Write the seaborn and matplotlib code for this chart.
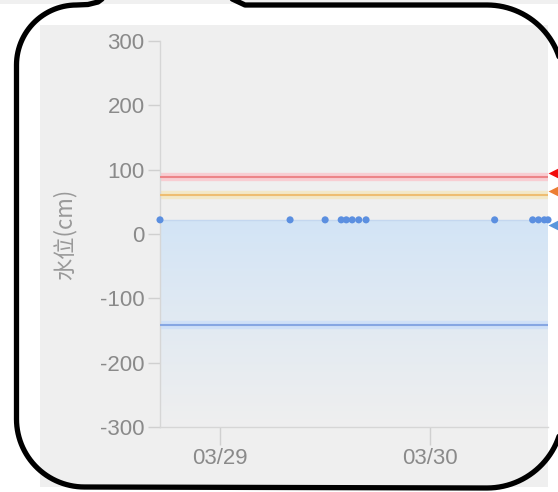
import numpy as np
import pandas as pd
import seaborn as sns
import matplotlib
matplotlib.use("Agg")
import matplotlib.pyplot as plt
import matplotlib.dates as mdates
import matplotlib.transforms as mtransforms
from matplotlib.path import Path
from matplotlib.patches import PathPatch, Rectangle

# water level readings (cm)
times = ["2024-03-28 17:10", "2024-03-29 08:00", "2024-03-29 12:00",
         "2024-03-29 13:50", "2024-03-29 14:25", "2024-03-29 15:05",
         "2024-03-29 15:50", "2024-03-29 16:40", "2024-03-30 07:20",
         "2024-03-30 11:40", "2024-03-30 12:20", "2024-03-30 13:00",
         "2024-03-30 13:25"]
levels = [22, 22, 22, 22, 22, 22, 22, 22, 22, 22, 22, 22, 22]

# alert lines
warn_levels = [89, 60, -142]
warn_cores = ["#ec8488", "#eebd72", "#86a6e2"]
warn_halos = ["#f8cdd2", "#f3e8c8", "#cfe0f7"]
arrow_colors = ["#f20c0c", "#ec7d33", "#5a96dc"]

y_ticks = [-300, -200, -100, 0, 100, 200, 300]
x_ticks = ["2024-03-29", "2024-03-30"]
y_label = "水位(cm)"

df = pd.DataFrame({"time": pd.to_datetime(times), "level": levels})

sns.set_theme(style="white")
plt.rcParams["font.family"] = ["Liberation Sans", "DejaVu Sans"]
plt.rcParams["axes.unicode_minus"] = False

W, H = 558, 492
fig = plt.figure(figsize=(W / 100, H / 100), dpi=100)
fig.patch.set_facecolor("white")

# screenshot background panel
bg = fig.add_axes([0, 0, 1, 1], zorder=-1)
bg.set_xlim(0, W)
bg.set_ylim(H, 0)
bg.axis("off")
bg.add_patch(Rectangle((0, 0), W, 3.5, color="#f0f0f0", lw=0))
bg.add_patch(Rectangle((40, 25), 508, 462, color="#efefef", lw=0))

ax = fig.add_axes([160 / W, 1 - 427 / H, 388 / W, 386 / H], zorder=1)
ax.set_facecolor("none")

x0, x1 = df["time"].iloc[0], df["time"].iloc[-1]

# gradient area under the level line
poly = ax.fill_between(df["time"], df["level"], -300, color="none", lw=0)
top = np.array([210, 228, 246]) / 255
bot = np.array([239, 239, 239]) / 255
g = np.linspace(0, 1, 256)[:, None] ** 0.9
grad = (top[None, :] * (1 - g) + bot[None, :] * g)[:, None, :]
im = ax.imshow(grad, aspect="auto", origin="upper",
               extent=[mdates.date2num(x0), mdates.date2num(x1), -300, max(levels)],
               zorder=1)
im.set_clip_path(poly.get_paths()[0], transform=ax.transData)

for v, core, halo in zip(warn_levels, warn_cores, warn_halos):
    ax.axhline(v, color=halo, lw=6, zorder=2)
    ax.axhline(v, color=core, lw=1.5, zorder=3)

sns.lineplot(data=df, x="time", y="level", ax=ax, color="#c4d7ef", lw=1, zorder=4)
sns.scatterplot(data=df, x="time", y="level", ax=ax, color="#5b8fe0",
                s=26, edgecolor="none", zorder=5, clip_on=False)

# end-of-line arrows sticking out on the right
arrow_y = [warn_levels[0], warn_levels[1], levels[-1]]
arrow_dy = [4, 4, -5]
for v, dy, c in zip(arrow_y, arrow_dy, arrow_colors):
    tr = (mtransforms.blended_transform_factory(ax.transAxes, ax.transData)
          + mtransforms.ScaledTranslation(7.5 / 100, dy / 100, fig.dpi_scale_trans))
    ax.plot([1.0], [v], marker="<", ms=11, color=c, mec="none",
            transform=tr, clip_on=False, zorder=6)

ax.set_xlim(x0, x1)
ax.set_ylim(-300, 300)
ax.set_yticks(y_ticks)
ax.set_xticks(pd.to_datetime(x_ticks))
ax.xaxis.set_major_formatter(mdates.DateFormatter("%m/%d"))
ax.set_xlabel("")
ax.set_ylabel(y_label, fontsize=16, color="#999999",
              family=["Noto Sans CJK SC", "DejaVu Sans"])
ax.yaxis.set_label_coords(-0.215, 0.5)

for s in ["top", "right"]:
    ax.spines[s].set_visible(False)
for s in ["left", "bottom"]:
    ax.spines[s].set_color("#d6d6d6")
    ax.spines[s].set_linewidth(1)
ax.tick_params(axis="y", length=9, width=1, color="#d0d0d0", pad=2,
               labelsize=16, labelcolor="#8a8a8a", left=True)
ax.tick_params(axis="x", length=13, width=1, color="#d0d0d0", pad=2,
               labelsize=16, labelcolor="#8a8a8a", bottom=True)

# speech-bubble outline drawn over the screenshot
fg = fig.add_axes([0, 0, 1, 1], zorder=10)
fg.set_xlim(0, W)
fg.set_ylim(H, 0)
fg.axis("off")
fg.patch.set_alpha(0)


def arc(cx, cy, r, a0, a1):
    a = np.radians(np.linspace(a0, a1, 30))
    return np.column_stack([cx + r * np.cos(a), cy - r * np.sin(a)])


pts = [np.array([[106, -4], [98, 2], [88, 4.5], [76.5, 5]]),
       arc(76.5, 65, 60, 90, 180),
       arc(84.5, 419, 68, 180, 270),
       arc(487, 412, 76, 270, 360),
       arc(487, 81, 76, 0, 90),
       np.array([[245, 5], [228, -3]])]
verts = np.vstack(pts)
fg.add_patch(PathPatch(Path(verts), fill=False, lw=3.8, ec="black",
                       capstyle="round", joinstyle="round", clip_on=False))

fig.savefig("out.png", dpi=100)
